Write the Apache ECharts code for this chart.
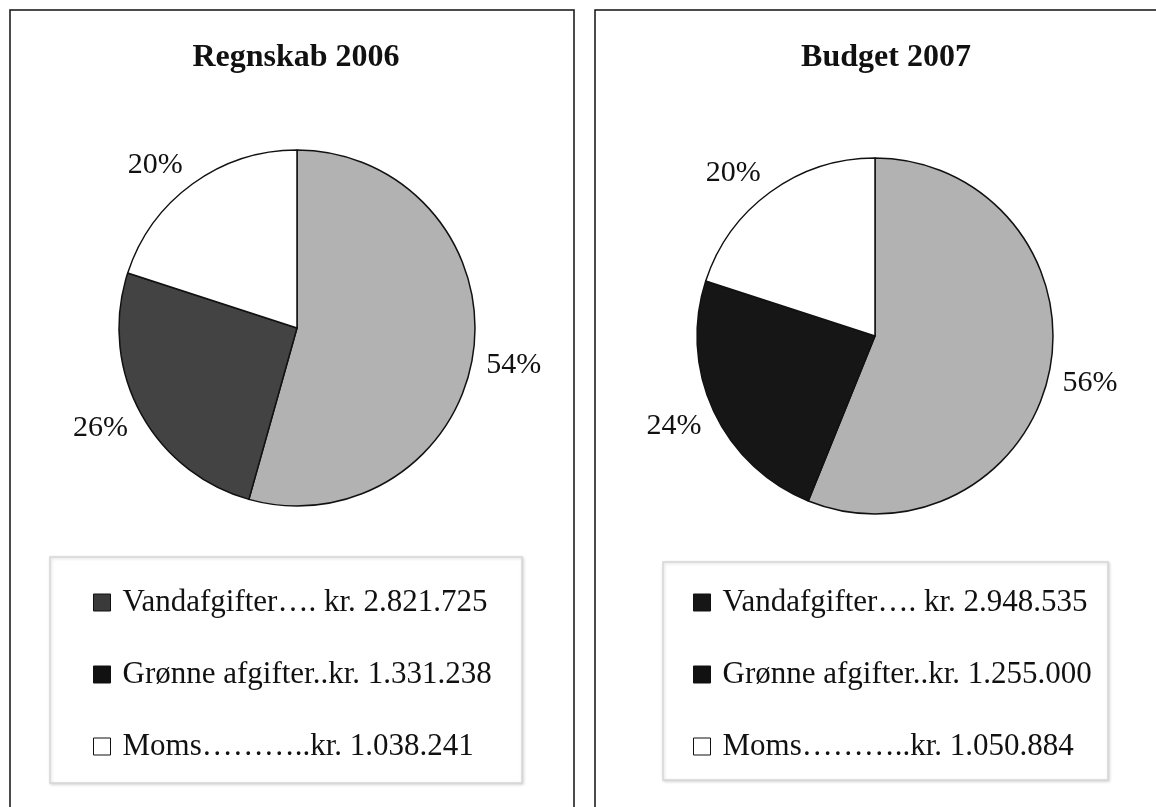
<!DOCTYPE html>
<html>
<head>
<meta charset="utf-8">
<script src="https://cdn.jsdelivr.net/npm/echarts@6/dist/echarts.min.js"></script>
<style>
html,body{margin:0;padding:0;background:#fff;}
#c{width:1156px;height:807px;}
</style>
</head>
<body>
<div id="c"></div>
<script>
// ---- data ----
var categories = ['Vandafgifter', 'Grønne afgifter', 'Moms'];
var titles = ['Regnskab 2006', 'Budget 2007'];
var values2006 = [2821725, 1331238, 1038241];
var values2007 = [2948535, 1255000, 1050884];
var legendLabels2006 = ['Vandafgifter…. kr. 2.821.725', 'Grønne afgifter..kr. 1.331.238', 'Moms………..kr. 1.038.241'];
var legendLabels2007 = ['Vandafgifter…. kr. 2.948.535', 'Grønne afgifter..kr. 1.255.000', 'Moms………..kr. 1.050.884'];

// ---- styles ----
var FONT = '"Liberation Serif", "Times New Roman", serif';
var slice2006 = ['#b2b2b2', '#434343', '#ffffff'];
var slice2007 = ['#b2b2b2', '#161616', '#ffffff'];
var icon2006 = ['#3a3a3a', '#111111', '#ffffff'];
var icon2007 = ['#161616', '#111111', '#ffffff'];
var allValues = [values2006, values2007];

// vertical direction of a slice's mid angle (labels pushed away vertically, box-edge placement)
function midSin(vals, idx) {
  var total = vals.reduce(function (a, b) { return a + b; }, 0);
  var cum = 0;
  for (var i = 0; i < idx; i++) cum += vals[i];
  var mid = (cum + vals[idx] / 2) / total;
  var theta = (90 - mid * 360) * Math.PI / 180;
  return Math.sin(theta);
}

function pieData(vals, labels, colors) {
  return vals.map(function (v, i) {
    return { name: labels[i], value: v, itemStyle: { color: colors[i] } };
  });
}
function legendData(labels, colors) {
  return labels.map(function (n, i) {
    return { name: n, itemStyle: { color: colors[i], borderColor: '#111', borderWidth: 1 } };
  });
}
function pieSeries(center, vals, labels, colors) {
  return {
    type: 'pie',
    center: center,
    radius: 178,
    startAngle: 90,
    clockwise: true,
    avoidLabelOverlap: false,
    silent: true,
    emphasis: { disabled: true },
    itemStyle: { borderColor: '#111', borderWidth: 1.5 },
    label: {
      show: true,
      position: 'outside',
      fontFamily: FONT,
      fontSize: 30,
      color: '#111',
      distanceToLabelLine: 5,
      formatter: function (p) { return Math.round(p.percent) + '%'; }
    },
    labelLine: { show: false, length: 8, length2: 0 },
    labelLayout: function (p) {
      var s = midSin(allValues[p.seriesIndex], p.dataIndex);
      return { dy: s < 0 ? 12 : -12 };
    },
    data: pieData(vals, labels, colors)
  };
}
function legendOpt(left, top, labels, colors) {
  return {
    orient: 'vertical',
    left: left,
    top: top,
    padding: 0,
    itemGap: 41,
    itemWidth: 17,
    itemHeight: 17,
    selectedMode: false,
    icon: 'rect',
    textStyle: { fontFamily: FONT, fontSize: 31, color: '#111', lineHeight: 31, padding: [0, 0, 0, 7] },
    data: legendData(labels, colors)
  };
}

var chart = echarts.init(document.getElementById('c'), null, { renderer: 'canvas' });
chart.setOption({
  backgroundColor: '#ffffff',
  animation: false,
  title: [
    { text: titles[0], left: 296, top: 42, textAlign: 'center', padding: 0,
      textStyle: { fontFamily: FONT, fontSize: 32, fontWeight: 'bold', color: '#111' } },
    { text: titles[1], left: 886, top: 42, textAlign: 'center', padding: 0,
      textStyle: { fontFamily: FONT, fontSize: 32, fontWeight: 'bold', color: '#111' } }
  ],
  graphic: [
    { type: 'rect', z: -10, shape: { x: 10, y: 10, width: 564, height: 830 },
      style: { fill: '#fff', stroke: '#111', lineWidth: 1.5 } },
    { type: 'rect', z: -10, shape: { x: 595, y: 10, width: 620, height: 830 },
      style: { fill: '#fff', stroke: '#111', lineWidth: 1.5 } },
    { type: 'rect', z: -5, shape: { x: 50, y: 557, width: 472, height: 226 },
      style: { fill: '#fff', stroke: '#d6d6d6', lineWidth: 1.5, shadowBlur: 3, shadowColor: 'rgba(0,0,0,0.15)', shadowOffsetX: 1, shadowOffsetY: 1 } },
    { type: 'rect', z: -5, shape: { x: 663, y: 562, width: 445, height: 218 },
      style: { fill: '#fff', stroke: '#d6d6d6', lineWidth: 1.5, shadowBlur: 3, shadowColor: 'rgba(0,0,0,0.15)', shadowOffsetX: 1, shadowOffsetY: 1 } }
  ],
  legend: [
    legendOpt(93, 587, legendLabels2006, icon2006),
    legendOpt(693, 587, legendLabels2007, icon2007)
  ],
  series: [
    pieSeries([297, 328], values2006, legendLabels2006, slice2006),
    pieSeries([875, 336], values2007, legendLabels2007, slice2007)
  ]
});
</script>
</body>
</html>
